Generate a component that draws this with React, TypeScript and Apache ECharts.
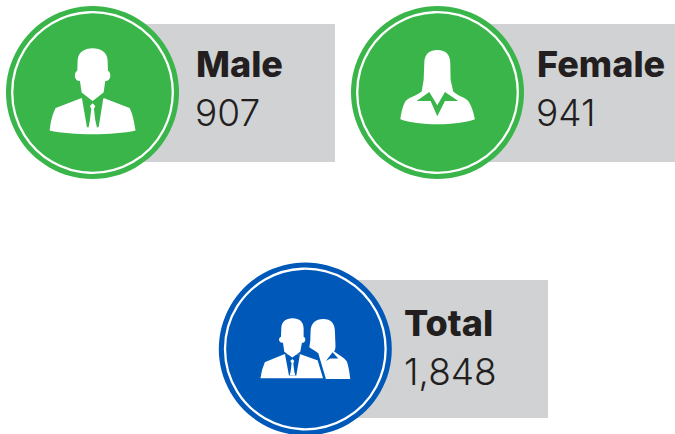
import React, { useEffect, useRef } from "react";
import * as echarts from "echarts";

const categories = ["Male", "Female", "Total"];
const values = [907, 941, 1848];

const GREEN = "#3ab54a";
const BLUE = "#0059b8";
const GREY = "#d1d2d4";
const INK = "#231f20";

const shapes: Record<string, string> = {
  maleBody:
    "M108,175 L32,204 C22,222 16,250 14,272 C80,287 205,287 272,272 C268,250 264,222 254,204 L178,175 Z",
  maleHead:
    "M143,25 C118,25 100,37 98,60 L97,92 C87,97 87,118 99,122 L105,123 L110,158 L143,183 L176,158 L181,123 L187,122 C199,118 199,97 189,92 L188,60 C186,37 168,25 143,25 Z",
  maleShirt: "M110,170 L176,170 L161,262 L126,262 Z",
  maleTie:
    "M143,190 L151,198 L147,207 L151,240 L156,262 L143,268 L131,262 L135,240 L139,207 L135,198 Z",
  femaleBody:
    "M127,30 C100,30 88,45 88,70 L86,120 L80,155 C60,170 38,174 30,186 C22,200 18,222 16,238 C70,258 185,258 240,238 C236,218 230,198 222,186 C214,174 192,170 175,155 L167,120 L166,70 C166,45 154,30 127,30 Z",
  femaleCollar:
    "M65,183 L103,156 L127,196 L150,156 L190,183 L150,183 L127,229 L107,183 Z",
  totalMaleBody:
    "M87,131 L28,155 C21,170 16,190 14,207 L207,207 L190,150 L137,131 Z",
  totalMaleHead:
    "M113,25 C92,25 80,36 79,54 L78,80 C70,84 70,95 80,98 L84,98 L88,125 L112,143 L136,125 L141,98 L145,98 C153,95 153,84 146,80 L146,54 C145,36 134,25 113,25 Z",
  totalShirt: "M90,133 L135,133 L124,197 L102,197 Z",
  totalTie:
    "M112,147 L118,153 L115,160 L118,185 L121,197 L104,197 L107,185 L110,160 L106,153 Z",
  totalFemale:
    "M205,27 C182,27 168,40 167,62 L166,92 L163,112 C172,118 180,122 190,130 L213,207 L286,207 C284,188 281,170 276,155 C269,143 250,135 237,124 C243,120 242,105 241,92 L240,62 C239,40 228,27 205,27 Z",
  totalCollar: "M213,153 L233,127 L250,146 L226,146 Z",
};

Object.keys(shapes).forEach((name) => {
  echarts.graphic.registerShape(name, echarts.graphic.extendPath(shapes[name], {}) as any);
});

const icon = (name: string, ox: number, oy: number, fill: string, stroke?: string) => ({
  type: name,
  x: ox,
  y: oy,
  scaleX: 1 / 3,
  scaleY: 1 / 3,
  silent: true,
  style: stroke ? { fill, stroke, lineWidth: 4 } : { fill },
});

const card = (
  cx: number,
  cy: number,
  rectRight: number,
  rectTop: number,
  rectBottom: number,
  color: string,
  index: number,
  textX: number,
  numX: number,
  titleY: number,
  numY: number,
  parts: any[]
) => [
  { type: "rect", shape: { x: cx, y: rectTop, width: rectRight - cx, height: rectBottom - rectTop }, style: { fill: GREY } },
  { type: "circle", shape: { cx, cy, r: 86.5 }, style: { fill: color } },
  { type: "circle", shape: { cx, cy, r: 80.3 }, style: { fill: "none", stroke: "#ffffff", lineWidth: 2.3 } },
  ...parts,
  {
    type: "text",
    x: textX,
    y: titleY,
    style: {
      text: categories[index],
      fill: INK,
      font: "800 36px Inter",
      verticalAlign: "bottom",
    },
  },
  {
    type: "text",
    x: numX,
    y: numY,
    style: {
      text: values[index].toLocaleString("en-US"),
      fill: INK,
      font: "300 37px Inter",
      verticalAlign: "bottom",
    },
  },
];

export default function App() {
  const ref = useRef<HTMLDivElement>(null);
  useEffect(() => {
    const chart = echarts.init(ref.current!, null, { renderer: "svg" });
    chart.setOption({
      animation: false,
      backgroundColor: "#ffffff",
      graphic: {
        elements: [
          ...card(92.5, 92.5, 335, 24, 162, GREEN, 0, 196, 195, 82, 131, [
            icon("maleBody", 45, 40, "#ffffff"),
            icon("maleShirt", 45, 40, GREEN),
            icon("maleHead", 45, 40, "#ffffff"),
            icon("maleTie", 45, 40, "#ffffff"),
          ]),
          ...card(437.5, 92.5, 675, 24, 162, GREEN, 1, 537, 536, 82, 131, [
            icon("femaleBody", 395, 40, "#ffffff"),
            icon("femaleCollar", 395, 40, GREEN),
          ]),
          ...card(305.3, 349, 548, 280, 418, BLUE, 2, 404, 404, 341, 390, [
            icon("totalFemale", 255, 310, "#ffffff"),
            icon("totalCollar", 255, 310, BLUE),
            icon("totalMaleBody", 255, 310, "#ffffff", BLUE),
            icon("totalShirt", 255, 310, BLUE),
            icon("totalMaleHead", 255, 310, "#ffffff"),
            icon("totalTie", 255, 310, "#ffffff"),
          ]),
        ],
      },
    });
    return () => chart.dispose();
  }, []);
  return <div ref={ref} style={{ position: "absolute", left: 0, top: 0, width: 675, height: 434 }} />;
}
